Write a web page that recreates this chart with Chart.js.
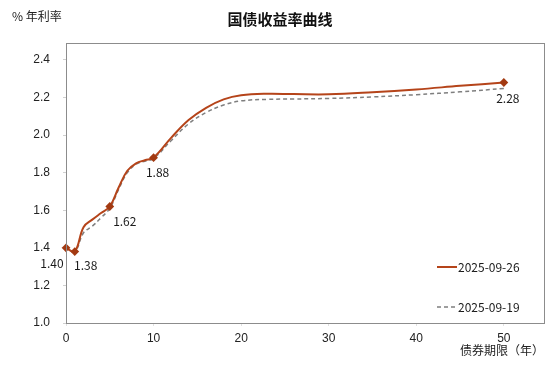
<!DOCTYPE html>
<html>
<head>
<meta charset="utf-8">
<script src="https://cdn.jsdelivr.net/npm/chart.js@4.4.1/dist/chart.umd.min.js"></script>
<style>
  html, body { margin: 0; padding: 0; background: #ffffff; }
  #wrap { width: 550px; height: 367px; }
</style>
</head>
<body>
<div id="wrap"><canvas id="c" width="550" height="367"></canvas></div>
<script>
const tenors = [0, 1, 2, 3, 4, 5, 6, 7, 8, 9, 10, 12, 14, 16, 18, 20, 23, 26, 30, 35, 40, 45, 50];
const yield0926 = [1.40, 1.38, 1.51, 1.55, 1.585, 1.62, 1.72, 1.81, 1.85, 1.866, 1.88, 1.985, 2.08, 2.145, 2.19, 2.212, 2.22, 2.218, 2.217, 2.228, 2.243, 2.262, 2.28];
const yield0919 = [1.40, 1.38, 1.48, 1.515, 1.56, 1.61, 1.71, 1.80, 1.845, 1.861, 1.875, 1.97, 2.06, 2.12, 2.16, 2.182, 2.19, 2.192, 2.195, 2.203, 2.215, 2.23, 2.248];
const keyTenors = [0, 1, 5, 10, 50];
const seriesNames = ['2025-09-26', '2025-09-19'];
const xTicks = [0, 10, 20, 30, 40, 50];
const yTicks = [1.0, 1.2, 1.4, 1.6, 1.8, 2.0, 2.2, 2.4];
const titleText = '国债收益率曲线';
const yUnitText = '% 年利率';
const xTitleText = '债券期限（年）';

const RED = '#B5441A';
const MARK = '#A33A12';
const GREY = '#7f7f7f';
const CJK = '"Noto Sans CJK SC", "Noto Sans", sans-serif';
const LAT = '"Liberation Sans", Arial, sans-serif';

const pts = (vals) => tenors.map((t, i) => ({ x: t, y: vals[i] }));
const radii = tenors.map(t => keyTenors.includes(t) ? 3 : 0);

// label offsets relative to marker (dx, dy), text-centered
const labelOffsets = { 0: [-14, 16], 1: [11, 14], 5: [15, 15], 10: [4, 15], 50: [4, 16] };

const decor = {
  id: 'decor',
  afterDatasetsDraw(chart) {
    const { ctx, chartArea: a, scales } = chart;
    ctx.save();
    // plot border
    ctx.strokeStyle = '#8c8c8c';
    ctx.lineWidth = 1;
    ctx.strokeRect(Math.round(a.left) + 0.5, Math.round(a.top) + 0.5, Math.round(a.right - a.left) - 1, Math.round(a.bottom - a.top));
    // data labels
    ctx.fillStyle = '#1a1a1a';
    ctx.font = '12px ' + CJK;
    ctx.textAlign = 'center';
    ctx.textBaseline = 'middle';
    keyTenors.forEach(t => {
      const i = tenors.indexOf(t);
      const px = scales.x.getPixelForValue(t);
      const py = scales.y.getPixelForValue(yield0926[i]);
      const off = labelOffsets[t];
      ctx.fillText(yield0926[i].toFixed(2), px + off[0], py + off[1]);
    });
    // legend
    const lx = 437, lw = 20;
    const ly1 = 267, ly2 = 307;
    ctx.lineWidth = 2;
    ctx.strokeStyle = RED;
    ctx.setLineDash([]);
    ctx.beginPath(); ctx.moveTo(lx, ly1); ctx.lineTo(lx + lw, ly1); ctx.stroke();
    ctx.lineWidth = 1.5;
    ctx.strokeStyle = GREY;
    ctx.setLineDash([4, 3]);
    ctx.beginPath(); ctx.moveTo(lx, ly2); ctx.lineTo(lx + lw, ly2); ctx.stroke();
    ctx.setLineDash([]);
    ctx.textAlign = 'left';
    ctx.fillStyle = '#1a1a1a';
    ctx.font = '12px ' + CJK;
    ctx.fillText(seriesNames[0], lx + lw + 1, ly1);
    ctx.fillText(seriesNames[1], lx + lw + 1, ly2);
    // title and axis texts
    ctx.textAlign = 'center';
    ctx.font = 'bold 15px ' + CJK;
    ctx.fillStyle = '#111';
    ctx.fillText(titleText, 280, 19);
    ctx.textAlign = 'left';
    ctx.font = '12px ' + CJK;
    ctx.fillStyle = '#222';
    ctx.fillText(yUnitText, 12, 16);
    ctx.textAlign = 'right';
    ctx.fillText(xTitleText, 544, 350);
    ctx.restore();
  }
};

new Chart(document.getElementById('c'), {
  type: 'line',
  data: {
    datasets: [
      {
        label: seriesNames[0],
        data: pts(yield0926),
        borderColor: RED,
        backgroundColor: MARK,
        borderWidth: 2,
        pointRadius: radii,
        pointHoverRadius: radii,
        pointStyle: 'rectRot',
        pointBackgroundColor: MARK,
        pointBorderColor: MARK,
        tension: 0.4,
        clip: false,
        order: 1
      },
      {
        label: seriesNames[1],
        data: pts(yield0919),
        borderColor: GREY,
        borderWidth: 1.5,
        borderDash: [4, 3],
        pointRadius: 0,
        tension: 0.4,
        clip: false,
        order: 2
      }
    ]
  },
  options: {
    responsive: false,
    devicePixelRatio: 1,
    animation: false,
    layout: { padding: { left: 0, top: 43, right: 3, bottom: 0 } },
    plugins: { legend: { display: false }, title: { display: false }, tooltip: { enabled: false } },
    scales: {
      x: {
        type: 'linear',
        min: 0,
        max: 54.7,
        afterFit(s) { s.height = 44; },
        afterBuildTicks(s) { s.ticks = xTicks.map(v => ({ value: v })); },
        border: { display: false },
        grid: { drawOnChartArea: false, drawTicks: true, tickLength: 3, color: '#e0e0e0' },
        ticks: { padding: 5, color: '#222', font: { family: LAT, size: 12 }, maxRotation: 0, callback: v => String(v) }
      },
      y: {
        type: 'linear',
        min: 1.0,
        max: 2.49,
        afterFit(s) { s.width = 66; },
        afterBuildTicks(s) { s.ticks = yTicks.map(v => ({ value: v })); },
        border: { display: false },
        grid: { drawOnChartArea: false, drawTicks: true, tickLength: 3, color: '#d0d0d0' },
        ticks: { padding: 13, color: '#222', font: { family: LAT, size: 12 }, callback: v => Number(v).toFixed(1) }
      }
    }
  },
  plugins: [decor]
});
</script>
</body>
</html>
